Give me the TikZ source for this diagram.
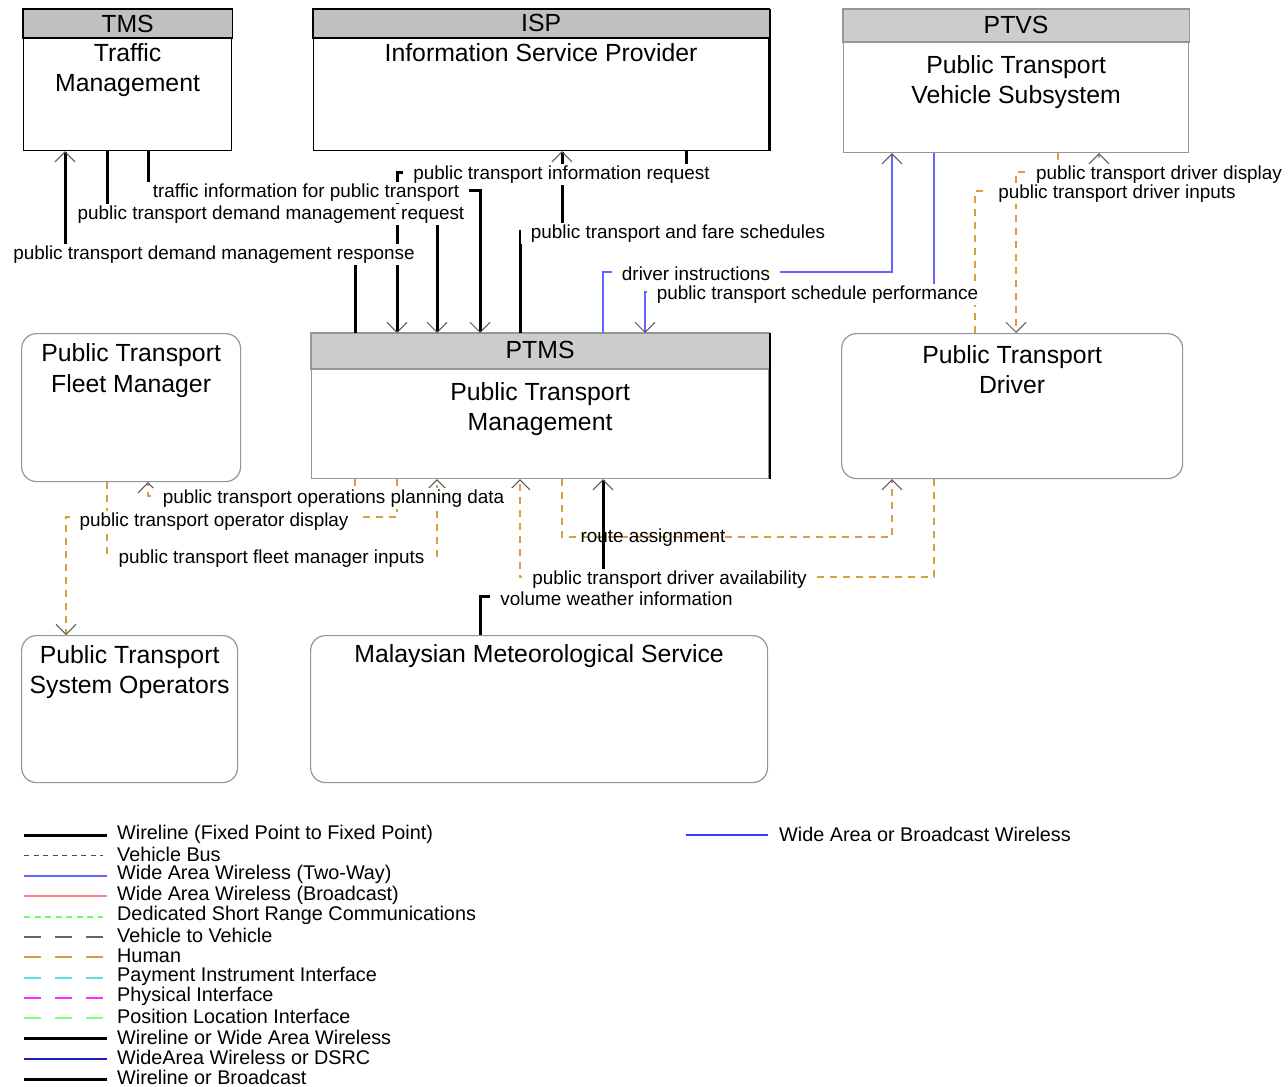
\documentclass[tikz,border=0pt]{standalone}
\usepackage{fontspec}
\setmainfont{Liberation Sans}
\usetikzlibrary{arrows.meta,positioning}
\definecolor{hdrgray}{RGB}{192,192,192}
\definecolor{hdrlight}{RGB}{204,204,204}
\definecolor{boxgray}{RGB}{150,150,150}
\definecolor{wablue}{RGB}{100,100,255}
\definecolor{humanc}{RGB}{214,160,64}
\definecolor{tipgray}{RGB}{90,90,90}
\definecolor{bcred}{RGB}{255,128,128}
\definecolor{dsrcgreen}{RGB}{100,255,100}
\definecolor{paycyan}{RGB}{90,225,225}
\definecolor{physmag}{RGB}{255,40,255}
\definecolor{posgreen}{RGB}{130,255,130}
\definecolor{dsrcblue}{RGB}{30,30,190}
\definecolor{bcwblue}{RGB}{60,60,255}
\tikzset{%
    >={Straight Barb[length=10pt,width=20pt,line width=1pt,color=tipgray]},
    sysbox/.style = {
        rectangle, draw=black, line width=1.2pt, fill=white,
        anchor=north west, inner sep=0pt
    },
    termbox/.style = {sysbox, draw=boxgray, rounded corners=15pt},
    boxtext/.style = {
        font=\fontsize{24.8}{30.5}\selectfont, align=center, inner sep=0pt
    },
    flowlbl/.style = {
        fill=white, inner xsep=10pt, inner ysep=2pt, yshift=-2.5pt,
        font=\fontsize{18.9}{22}\selectfont
    },
    wire/.style = {line width=3pt},
    wawire/.style = {line width=1.5pt, draw=wablue},
    human/.style = {line width=1.3pt, draw=humanc, dash pattern=on 7pt off 6pt},
    lgtext/.style = {anchor=west, inner sep=0pt, font=\fontsize{19.8}{22}\selectfont},
    lgdash/.style = {line width=1.8pt, dash pattern=on 17pt off 14pt},
}
\begin{document}
\begin{tikzpicture}[x=1pt, y=-1pt]
        \path[use as bounding box, fill=white] (0,0) rectangle (1288,1087);
        % Boxes
        \node (tms)  [sysbox, minimum width=208pt, minimum height=141pt] at (23,9) {};
        \fill[hdrgray, draw=black, line width=1.2pt]
            (tms.north west) rectangle ([yshift=-29pt]tms.north east);
        \node (tmsid)   [boxtext] at ([yshift=-14.5pt]tms.north) {TMS};
        \node (tmsname) [boxtext] at ([yshift=-61pt]tms.north) {Traffic\\Management};

        \node (isp)  [sysbox, minimum width=455pt, minimum height=141pt] at (313,9) {};
        \fill[hdrgray, draw=black, line width=1.2pt]
            (isp.north west) rectangle ([yshift=-29pt]isp.north east);
        \draw[line width=2pt] ([xshift=0.5pt]isp.north east) -- ([xshift=0.5pt]isp.south east);
        \node (ispid)   [boxtext] at ([yshift=-14pt]isp.north) {ISP};
        \node (ispname) [boxtext] at ([yshift=-44pt]isp.north) {Information Service Provider};

        \node (ptvs) [sysbox, draw=boxgray, minimum width=345pt, minimum height=143pt] at (843,9) {};
        \fill[hdrlight, draw=boxgray, line width=1.2pt]
            (ptvs.north west) rectangle ([yshift=-33pt]ptvs.north east);
        \node (ptvsid)   [boxtext] at ([yshift=-16pt]ptvs.north) {PTVS};
        \node (ptvsname) [boxtext] at ([yshift=-73pt]ptvs.north)
                                {Public Transport\\Vehicle Subsystem};

        \node (fleet) [termbox, minimum width=219pt, minimum height=148pt] at (21,333) {};
        \node (fleetname) [boxtext] at ([yshift=-37.5pt]fleet.north)
                                {Public Transport\\Fleet Manager};

        \node (ptms) [sysbox, draw=boxgray, minimum width=457pt, minimum height=145pt] at (311,333) {};
        \fill[hdrlight, draw=boxgray, line width=1.2pt]
            (ptms.north west) rectangle ([yshift=-36pt]ptms.north east);
        \draw[line width=2pt] ([xshift=0.5pt]ptms.north east) -- ([xshift=0.5pt]ptms.south east);
        \node (ptmsid)   [boxtext] at ([yshift=-17pt]ptms.north) {PTMS};
        \node (ptmsname) [boxtext] at ([yshift=-76pt]ptms.north)
                                {Public Transport\\Management};

        \node (driver) [termbox, minimum width=341pt, minimum height=145pt] at (841,333) {};
        \node (drivername) [boxtext] at ([yshift=-36.5pt]driver.north)
                                {Public Transport\\Driver};

        \node (ops) [termbox, minimum width=216pt, minimum height=147pt] at (21,635) {};
        \node (opsname) [boxtext] at ([yshift=-37pt]ops.north)
                                {Public Transport\\System Operators};

        \node (met) [termbox, minimum width=457pt, minimum height=147pt] at (310,635) {};
        \node (metname) [boxtext] at ([yshift=-21.5pt]met.north)
                                {Malaysian Meteorological Service};

        % Arrow specification
        \draw[wire, ->] (355,0 |- ptms.north) |- (65,252) -- (65,0 |- tms.south);
        \draw[wire, ->] (107,0 |- tms.south) |- (437,212) -- (437,0 |- ptms.north);
        \draw[wire, ->] (148,0 |- tms.south) |- (480,190) -- (480,0 |- ptms.north);
        \draw[wire, ->] (686,0 |- isp.south) |- (397,172) -- (397,0 |- ptms.north);
        \draw[wire, ->] (520,0 |- ptms.north) |- (562,231) -- (562,0 |- isp.south);
        \draw[wawire, ->] (603,0 |- ptms.north) |- (892,272) -- (892,0 |- ptvs.south);
        \draw[wawire, ->] (934,0 |- ptvs.south) |- (645,292) -- (645,0 |- ptms.north);
        \draw[human, ->] (1058,0 |- ptvs.south) |- (1016,172) -- (1016,0 |- driver.north);
        \draw[human, ->] (975,0 |- driver.north) |- (1099,191) -- (1099,0 |- ptvs.south);
        \draw[human, ->] (355,0 |- ptms.south) |- (148,496) -- (148,0 |- fleet.south);
        \draw[human, ->] (397,0 |- ptms.south) |- (66,517) -- (66,0 |- ops.north);
        \draw[human, ->] (107,0 |- fleet.south) |- (437,556) -- (437,0 |- ptms.south);
        \draw[human, ->] (562,0 |- ptms.south) |- (892,537) -- (892,0 |- driver.south);
        \draw[human, ->] (934,0 |- driver.south) |- (520,577) -- (520,0 |- ptms.south);
        \draw[wire, ->] (480,0 |- met.north) |- (603,596) -- (603,0 |- ptms.south);

        % Flow labels
        \node (lblresp)  [flowlbl] at (214,252) {public transport demand management response};
        \node (lblreq)   [flowlbl] at (271,212) {public transport demand management request};
        \node (lbltraf)  [flowlbl] at (306,190) {traffic information for public transport};
        \node (lblinfo)  [flowlbl] at (561.5,172) {public transport information request};
        \node (lblfare)  [flowlbl] at (678,231) {public transport and fare schedules};
        \node (lblinst)  [flowlbl] at (696,271) {driver instructions};
        \node (lblperf)  [flowlbl] at (817.5,292) {public transport schedule performance};
        \node (lbldisp)  [flowlbl] at (1159,172) {public transport driver display};
        \node (lblinp)   [flowlbl] at (1117,191) {public transport driver inputs};
        \node (lblplan)  [flowlbl] at (333.5,496) {public transport operations planning data};
        \node (lblopdisp)[flowlbl] at (214,519) {public transport operator display};
        \node (lblfminp) [flowlbl] at (271.5,556) {public transport fleet manager inputs};
        \node (lblroute) [flowlbl, fill=none] at (653,535) {route assignment};
        \node (lblwx)    [flowlbl] at (616.5,596) {volume weather information};
        \node (lblavail) [flowlbl] at (669.5,577) {public transport driver availability};

        % Legend
        \node (lgwire) [lgtext] at (117,834) {Wireline (Fixed Point to Fixed Point)};
        \draw[wire] ([xshift=-93pt,yshift=-1.5pt]lgwire.west) -- ++(83,0);
        \node (lgbus) [lgtext] at (117,854.3) {Vehicle Bus};
        \draw[line width=1pt, draw=black!70, dash pattern=on 5pt off 4.5pt]
            ([xshift=-93pt,yshift=-1.5pt]lgbus.west) -- ++(79,0);
        \node (lgtwo) [lgtext] at (117,874.6) {Wide Area Wireless (Two-Way)};
        \draw[line width=1.8pt, draw=wablue] ([xshift=-93pt,yshift=-1.5pt]lgtwo.west) -- ++(83,0);
        \node (lgbc) [lgtext] at (117,894.9) {Wide Area Wireless (Broadcast)};
        \draw[line width=2pt, draw=bcred]
            ([xshift=-93pt,yshift=-1.5pt]lgbc.west) -- ++(83,0);
        \node (lgdsrc) [lgtext] at (117,915.2) {Dedicated Short Range Communications};
        \draw[line width=1.8pt, draw=dsrcgreen, dash pattern=on 6pt off 4.5pt]
            ([xshift=-93pt,yshift=-1.5pt]lgdsrc.west) -- ++(79,0);
        \node (lgv2v) [lgtext] at (117,935.5) {Vehicle to Vehicle};
        \draw[lgdash, draw=black!60] ([xshift=-93pt,yshift=-1.5pt]lgv2v.west) -- ++(79,0);
        \node (lghuman) [lgtext] at (117,955.8) {Human};
        \draw[lgdash, draw=humanc] ([xshift=-93pt,yshift=-1.5pt]lghuman.west) -- ++(79,0);
        \node (lgpay) [lgtext] at (117,976.1) {Payment Instrument Interface};
        \draw[lgdash, draw=paycyan] ([xshift=-93pt,yshift=-1.5pt]lgpay.west) -- ++(79,0);
        \node (lgphys) [lgtext] at (117,996.4) {Physical Interface};
        \draw[lgdash, draw=physmag] ([xshift=-93pt,yshift=-1.5pt]lgphys.west) -- ++(79,0);
        \node (lgpos) [lgtext] at (117,1016.7) {Position Location Interface};
        \draw[lgdash, draw=posgreen] ([xshift=-93pt,yshift=-1.5pt]lgpos.west) -- ++(79,0);
        \node (lgwwa) [lgtext] at (117,1037) {Wireline or Wide Area Wireless};
        \draw[wire] ([xshift=-93pt,yshift=-1.5pt]lgwwa.west) -- ++(83,0);
        \node (lgwads) [lgtext] at (117,1057.3) {WideArea Wireless or DSRC};
        \draw[line width=1.5pt, draw=dsrcblue]
            ([xshift=-93pt,yshift=-1.5pt]lgwads.west) -- ++(83,0);
        \node (lgwbc) [lgtext] at (117,1077.6) {Wireline or Broadcast};
        \draw[wire] ([xshift=-93pt,yshift=-1.5pt]lgwbc.west) -- ++(83,0);
        \node (lgwab) [lgtext] at (779,834) {Wide Area or Broadcast Wireless};
        \draw[line width=2pt, draw=bcwblue]
            (686,0 |- lgwab.west) ++(0,1) -- ++(82,0);
    \end{tikzpicture}
\end{document}
